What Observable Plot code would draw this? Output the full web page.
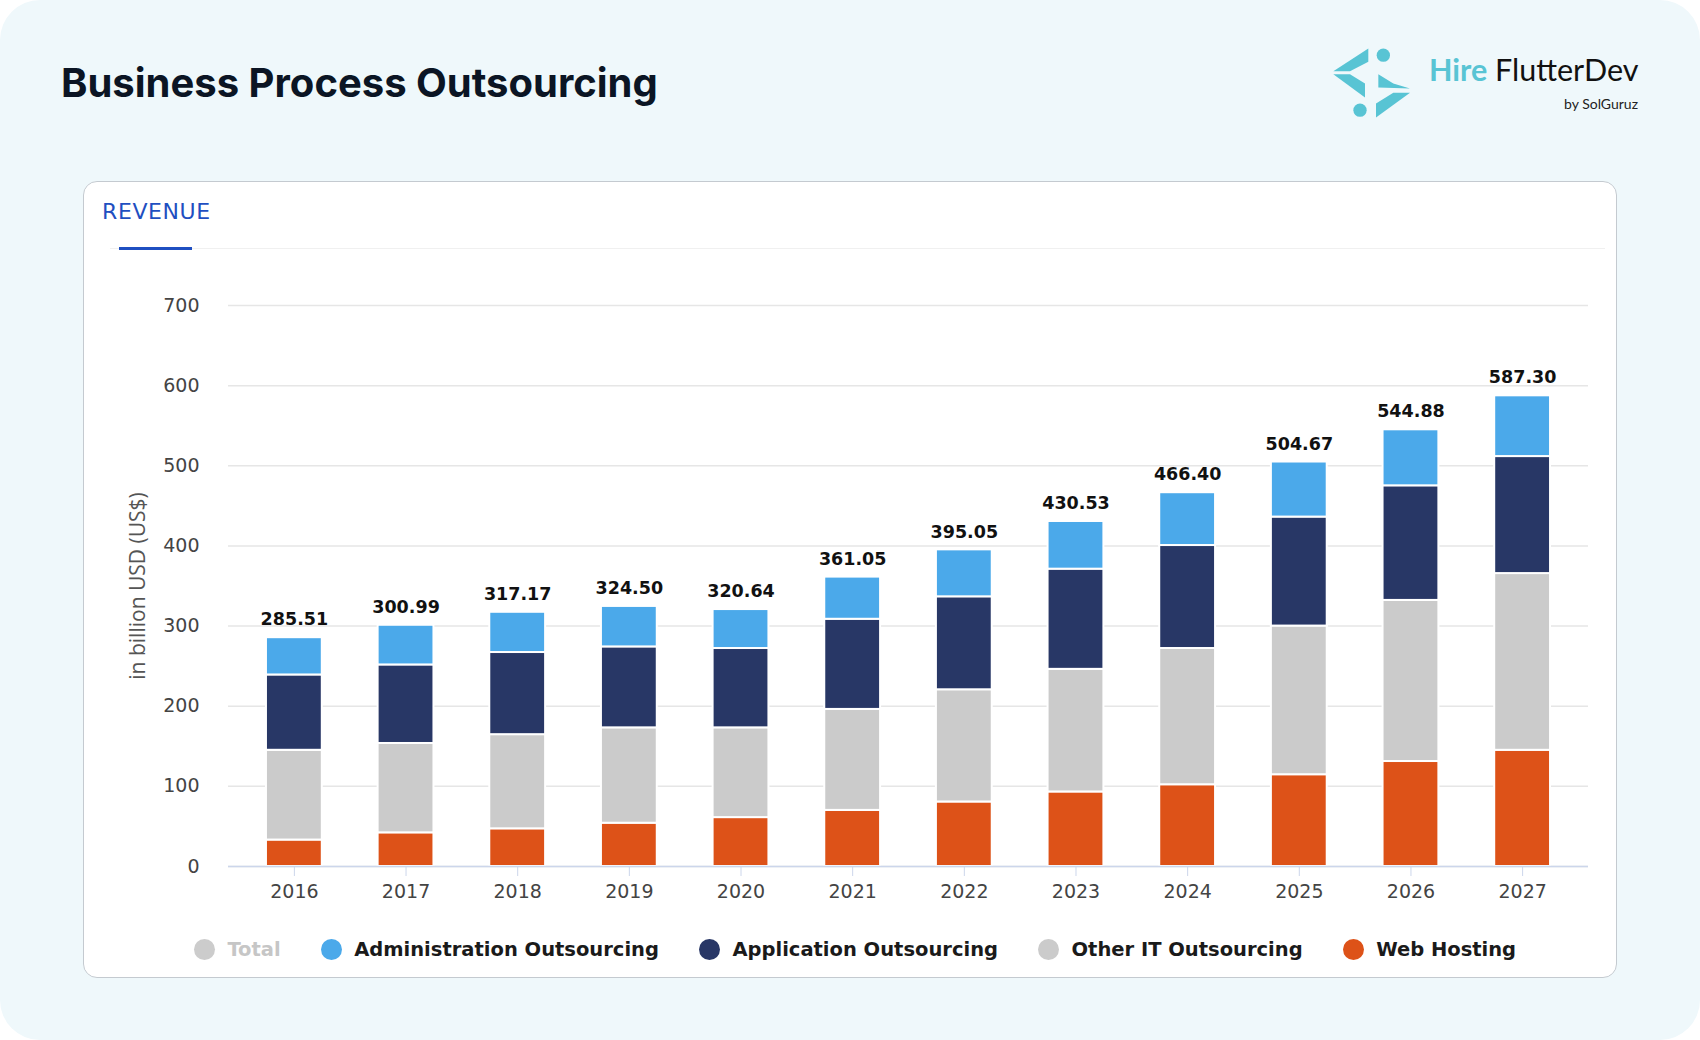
<!DOCTYPE html>
<html>
<head>
<meta charset="utf-8">
<script src="https://cdn.jsdelivr.net/npm/d3@7"></script>
<script src="https://cdn.jsdelivr.net/npm/@observablehq/plot@0.6"></script>
<style>
  html, body { margin: 0; padding: 0; background: #ffffff; }
  #page { position: relative; width: 1700px; height: 1040px; background: #eff8fb; border-radius: 40px; overflow: hidden; }
  #title { position: absolute; left: 61px; top: 63px; font-family: Inter, sans-serif; font-weight: 700; font-size: 40px; line-height: 1; color: #0b1524; white-space: nowrap; }
  #brand { position: absolute; left: 1429px; top: 54px; font-family: Lato, sans-serif; font-size: 30.5px; line-height: 1; white-space: nowrap; color: #111; }
  #brand b { color: #58c4d4; font-weight: 700; }
  #by { position: absolute; right: 62px; top: 97px; font-family: Lato, sans-serif; font-size: 14px; line-height: 1; color: #222; white-space: nowrap; }
  #logo { position: absolute; left: 1330px; top: 45px; }
  #card { position: absolute; left: 83px; top: 181px; width: 1534px; height: 797px; background: #fff; border: 1.5px solid #c4cad0; border-radius: 14px; box-sizing: border-box; }
  #revenue { position: absolute; left: 102px; top: 201px; font-family: "DejaVu Sans", sans-serif; font-size: 22px; line-height: 1; color: #1f4fc1; letter-spacing: 0.6px; }
  #divider { position: absolute; left: 110px; top: 248px; width: 1495px; height: 1px; background: #f0f0f0; }
  #underline { position: absolute; left: 119px; top: 247px; width: 73px; height: 3px; background: #1f4fc1; }
  #chart { position: absolute; left: 83px; top: 260px; }
  #legend { position: absolute; left: 88px; width: 1534px; top: 934px; height: 30px; display: flex; justify-content: center; align-items: center; gap: 40px; font-family: "DejaVu Sans", sans-serif; font-size: 19.5px; font-weight: 700; color: #1a1a1a; }
  .item { display: flex; align-items: center; white-space: nowrap; }
  .dot { display: inline-block; width: 21px; height: 21px; border-radius: 50%; margin-right: 12.5px; }
  .off { color: #c6c6c6; }
</style>
</head>
<body>
<div id="page">
  <div id="title">Business Process Outsourcing</div>
  <svg id="logo" width="84" height="77" viewBox="240 135 252 230">
    <circle cx="400" cy="165" r="20" fill="#58c4d4"/>
    <circle cx="330" cy="330" r="20" fill="#58c4d4"/>
    <polygon points="355,145 355,185 300,213 250,213" fill="#58c4d4"/>
    <polygon points="250,222 300,222 345,250 345,292" fill="#58c4d4"/>
    <polygon points="385,222 430,250 480,265 385,262" fill="#58c4d4"/>
    <polygon points="480,278 378,352 378,310 430,278" fill="#58c4d4"/>
  </svg>
  <div id="brand"><b>Hire</b> FlutterDev</div>
  <div id="by">by SolGuruz</div>
  <div id="card"></div>
  <div id="revenue">REVENUE</div>
  <div id="divider"></div>
  <div id="underline"></div>
  <div id="chart"></div>
  <div id="legend"></div>
</div>
<script>
const years = ["2016","2017","2018","2019","2020","2021","2022","2023","2024","2025","2026","2027"];
const totals = [285.51, 300.99, 317.17, 324.50, 320.64, 361.05, 395.05, 430.53, 466.40, 504.67, 544.88, 587.30];
const webHosting = [33, 42, 47, 54, 61, 70, 80.5, 93, 102, 114.5, 131, 145];
const otherIT = [112, 111.5, 117.5, 119, 112, 126, 140, 153, 170, 185.5, 201, 220.5];
const applicationOutsourcing = [94, 98, 102.5, 101, 99, 112.5, 116, 125, 128.5, 136, 143, 146];
const administrationOutsourcing = [46.5, 49.5, 50.2, 50.5, 48.6, 52.6, 58.6, 59.5, 65.9, 68.7, 69.9, 75.8];
const seriesNames = ["Web Hosting", "Other IT Outsourcing", "Application Outsourcing", "Administration Outsourcing"];
const seriesColors = ["#dd5218", "#cbcbcb", "#283766", "#4ba9ea"];
const legendNames = ["Total", "Administration Outsourcing", "Application Outsourcing", "Other IT Outsourcing", "Web Hosting"];
const legendColors = ["#cccccc", "#4ba9ea", "#283766", "#cbcbcb", "#dd5218"];
const yTicks = [0, 100, 200, 300, 400, 500, 600, 700];
const yLabel = "in billion USD (US$)";

const seriesArrays = [webHosting, otherIT, applicationOutsourcing, administrationOutsourcing];
const rows = [];
years.forEach((yr, i) => {
  seriesArrays.forEach((arr, j) => rows.push({year: yr, series: seriesNames[j], value: arr[i]}));
});
const totalRows = years.map((yr, i) => ({year: yr, total: totals[i]}));

const chart = Plot.plot({
  width: 1534,
  height: 660,
  marginLeft: 145,
  marginRight: 29,
  marginTop: 45,
  marginBottom: 54,
  style: {fontFamily: "DejaVu Sans, sans-serif", fontSize: "18px", background: "transparent", overflow: "visible"},
  x: {domain: years, paddingInner: 0.5, paddingOuter: 0.34, round: false, label: null},
  y: {domain: [0, 700], ticks: yTicks, label: null},
  color: {domain: seriesNames, range: seriesColors},
  marks: [
    Plot.gridY(yTicks, {stroke: "#e6e6e6", strokeOpacity: 1, strokeWidth: 1.5}),
    Plot.barY(rows, {x: "year", y: "value", fill: "series", stroke: "#ffffff", strokeWidth: 2}),
    Plot.ruleY([0], {stroke: "#ccd6eb", strokeWidth: 1.5}),
    Plot.axisY(yTicks, {tickSize: 0, tickPadding: 29, fill: "#444", fontSize: 19, label: null}),
    Plot.axisX({tickSize: 10, tickPadding: 8, stroke: "#ccd6eb", fill: "#444", fontSize: 19, label: null}),
    Plot.text(totalRows, {x: "year", y: "total", text: d => d.total.toFixed(2), dy: -18, fontWeight: "bold", fontSize: 17.5, fill: "#111"}),
    Plot.text([yLabel], {text: d => d, frameAnchor: "left", textAnchor: "middle", rotate: -90, dx: -90, fill: "#555", fontSize: 21, fontFamily: "Open Sans, sans-serif"})
  ]
});
document.getElementById("chart").appendChild(chart);

const legend = document.getElementById("legend");
legendNames.forEach((name, i) => {
  const item = document.createElement("div");
  item.className = "item" + (i === 0 ? " off" : "");
  const dot = document.createElement("span");
  dot.className = "dot";
  dot.style.background = legendColors[i];
  item.appendChild(dot);
  item.appendChild(document.createTextNode(name));
  legend.appendChild(item);
});
</script>
</body>
</html>
